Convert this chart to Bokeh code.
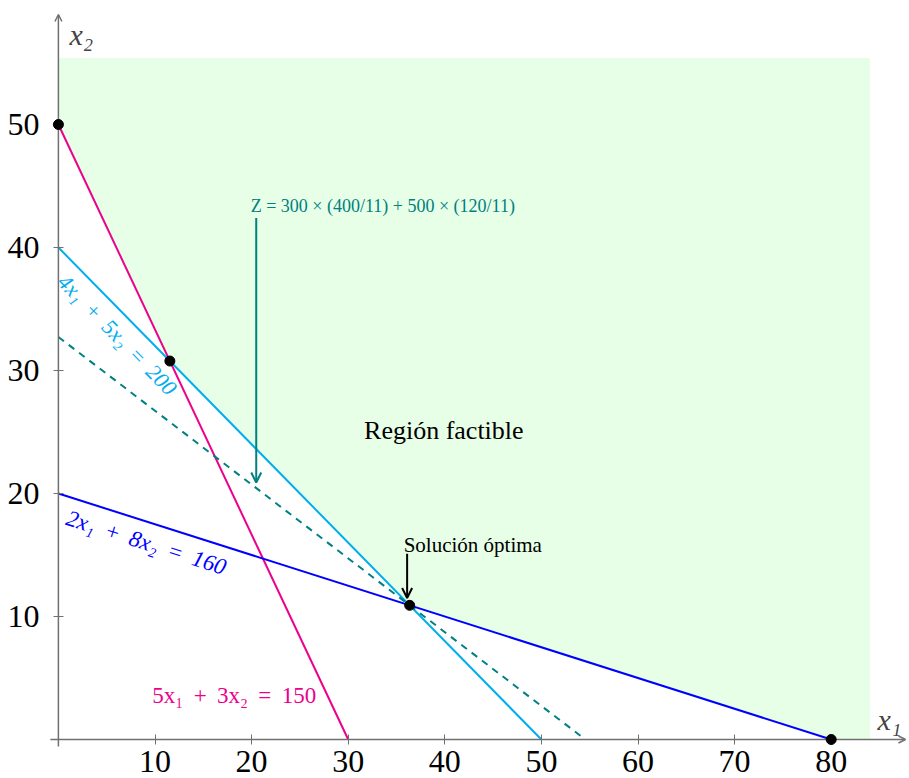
import math
from bokeh.plotting import figure
from bokeh.models import Label, Arrow, OpenHead, FixedTicker, LinearAxis, Range1d
from bokeh.embed import file_html
from bokeh.resources import INLINE

# ---- data ----
x_ticks = [10, 20, 30, 40, 50, 60, 70, 80]
y_ticks = [10, 20, 30, 40, 50]

# constraints a*x1 + b*x2 = rhs
con_pink = [5, 3, 150]
con_cyan = [4, 5, 200]
con_blue = [2, 8, 160]

# objective
obj_coef = [300, 500]
opt_x1 = 400 / 11
opt_x2 = 120 / 11

# corner points of the feasible region
vertex_x = [0, 150 / 13, 400 / 11, 80]
vertex_y = [50, 400 / 13, 120 / 11, 0]

# extent of the shaded region
region_x_max = 84
region_y_max = 55.4

# ---- styles ----
PINK = "#EC008C"
CYAN = "#00AEEF"
BLUE = "#0000FF"
TEAL = "#008080"
GREEN = "#E6FFE6"
GRAY = "#707070"
SERIF = "Liberation Serif"
SP = "\u2009"  # thin space for math-like spacing

# screen scale (px per data unit)
SX, SY = 9.66, 12.3
X0, Y0 = 57.9, 739.0
W, H = 909, 778

p = figure(width=W, height=H,
           x_range=Range1d(-X0 / SX, (W - X0) / SX),
           y_range=Range1d(-(H - Y0) / SY, Y0 / SY),
           output_backend="svg", toolbar_location=None,
           x_axis_location=None, y_axis_location=None, min_border=0)
p.grid.visible = False
p.outline_line_color = None
p.background_fill_color = "white"
p.border_fill_color = "white"

# feasible region
rx = [0] + vertex_x + [region_x_max, region_x_max]
ry = [region_y_max] + vertex_y + [0, region_y_max]
p.patch(rx, ry, fill_color=GREEN, line_color=None)

def seg(c):
    a, b, r = c
    return [0, r / a], [r / b, 0]

for c, col in [(con_pink, PINK), (con_cyan, CYAN), (con_blue, BLUE)]:
    xs, ys = seg(c)
    p.line(xs, ys, line_color=col, line_width=2)

zval = obj_coef[0] * opt_x1 + obj_coef[1] * opt_x2
p.line([0, zval / obj_coef[0]], [zval / obj_coef[1], 0],
       line_color=TEAL, line_width=2, line_dash="7 6")

p.scatter(vertex_x, vertex_y, size=10, color="black", level="overlay")

# axes
for loc, ticks, side in [("x", x_ticks, "below"), ("y", y_ticks, "left")]:
    ax = LinearAxis(ticker=FixedTicker(ticks=ticks), fixed_location=0)
    ax.axis_line_color = None
    ax.major_tick_line_color = GRAY
    ax.major_tick_line_width = 1
    ax.major_tick_in = 5
    ax.major_tick_out = 5
    ax.minor_tick_line_color = None
    ax.major_label_text_font = SERIF
    ax.major_label_text_font_size = "32px"
    ax.major_label_text_color = "black"
    ax.major_label_standoff = 6 if loc == "x" else 14
    p.add_layout(ax, side)

p.add_layout(Arrow(x_start=-0.83, y_start=0, x_end=(905 - X0) / SX, y_end=0,
                   line_color=GRAY, line_width=1.5,
                   end=OpenHead(size=7, line_color=GRAY, line_width=1.5)))
p.add_layout(Arrow(x_start=0, y_start=-0.57, x_end=0, y_end=(Y0 - 14) / SY,
                   line_color=GRAY, line_width=1.5,
                   end=OpenHead(size=7, line_color=GRAY, line_width=1.5)))

p.add_layout(Label(x=1.15, y=57.3, text="x₂", text_font=SERIF, text_font_style="italic",
                   text_font_size="30px", text_baseline="middle", text_align="left"))
p.add_layout(Label(x=84.8, y=1.6, text="x₁", text_font=SERIF, text_font_style="italic",
                   text_font_size="30px", text_baseline="middle", text_align="left"))

ang_cyan = math.atan(-con_cyan[0] / con_cyan[1] * SY / SX)
ang_blue = math.atan(-con_blue[0] / con_blue[1] * SY / SX)

def eq(c):
    a, b, r = c
    return f"{a}x₁{SP} + {SP}{b}x₂{SP} = {SP}{r}"

p.add_layout(Label(x=6.1, y=32.9, text=eq(con_cyan), text_font=SERIF,
                   text_font_style="italic", text_font_size="22px", text_color=CYAN,
                   angle=ang_cyan, text_align="center", text_baseline="middle"))
p.add_layout(Label(x=9.1, y=16.0, text=eq(con_blue), text_font=SERIF,
                   text_font_style="italic", text_font_size="23px", text_color=BLUE,
                   angle=ang_blue, text_align="center", text_baseline="middle"))
p.add_layout(Label(x=18.2, y=3.6, text=eq(con_pink), text_font=SERIF,
                   text_font_size="23px", text_color=PINK,
                   text_align="center", text_baseline="middle"))

p.add_layout(Label(x=19.9, y=43.4, text="Z = 300 × (400/11) + 500 × (120/11)",
                   text_font=SERIF, text_font_size="18px", text_color=TEAL,
                   text_align="left", text_baseline="middle"))
p.add_layout(Arrow(x_start=20.48, y_start=42.4, x_end=20.48, y_end=20.9,
                   line_color=TEAL, line_width=2,
                   end=OpenHead(size=10, line_color=TEAL, line_width=2)))

p.add_layout(Label(x=42.9, y=15.8, text="Solución óptima", text_font=SERIF,
                   text_font_size="21px", text_color="black",
                   text_align="center", text_baseline="middle"))
p.add_layout(Arrow(x_start=36.1, y_start=15.1, x_end=36.1, y_end=11.5,
                   line_color="black", line_width=2,
                   end=OpenHead(size=10, line_color="black", line_width=2)))

p.add_layout(Label(x=39.9, y=25.1, text="Región factible", text_font=SERIF,
                   text_font_size="26px", text_color="black",
                   text_align="center", text_baseline="middle"))

open("out.html", "w").write(file_html(p, INLINE))
